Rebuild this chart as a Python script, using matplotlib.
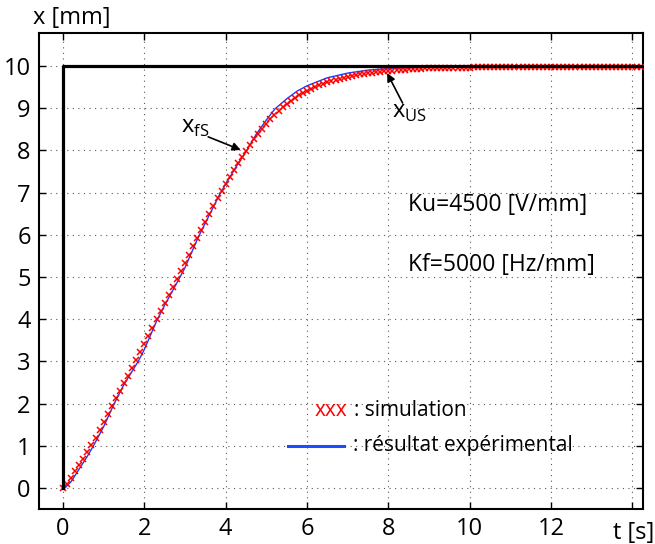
"""
Step response: simulation vs experimental result.
"""
import numpy as np
import matplotlib
matplotlib.use("Agg")
import matplotlib.pyplot as plt
from matplotlib.lines import Line2D

plt.rcParams["font.family"] = ["Open Sans", "DejaVu Sans"]

# set point (step)
step_t = [0.0, 0.0, 14.3]
step_x = [0.0, 10.0, 10.0]

# simulation, sampled every 0.1 s
sim_dt = 0.1
sim_x = [
    0.00, 0.10, 0.24, 0.39, 0.54, 0.69, 0.85, 1.01, 1.19, 1.37,
    1.56, 1.75, 1.94, 2.12, 2.30, 2.48, 2.66, 2.84, 3.02, 3.21,
    3.40, 3.60, 3.80, 4.00, 4.19, 4.38, 4.57, 4.76, 4.95, 5.13,
    5.33, 5.53, 5.73, 5.93, 6.12, 6.31, 6.50, 6.69, 6.87, 7.04,
    7.21, 7.37, 7.53, 7.69, 7.84, 7.98, 8.12, 8.26, 8.39, 8.51,
    8.63, 8.74, 8.84, 8.93, 9.02, 9.10, 9.17, 9.24, 9.30, 9.36,
    9.41, 9.46, 9.50, 9.54, 9.58, 9.61, 9.64, 9.67, 9.70, 9.72,
    9.74, 9.76, 9.78, 9.80, 9.81, 9.83, 9.84, 9.85, 9.86, 9.87,
    9.88, 9.89, 9.90, 9.91, 9.91, 9.92, 9.92, 9.93, 9.93, 9.94,
    9.94, 9.94, 9.95, 9.95, 9.95, 9.95, 9.96, 9.96, 9.96, 9.96,
    9.96, 9.97, 9.97, 9.97, 9.97, 9.97, 9.97, 9.97, 9.97, 9.97,
    9.97, 9.97, 9.97, 9.97, 9.97, 9.97, 9.97, 9.97, 9.97, 9.97,
    9.97, 9.97, 9.97, 9.98, 9.98, 9.98, 9.98, 9.98, 9.98, 9.98,
    9.98, 9.98, 9.98, 9.98, 9.98, 9.98, 9.98, 9.98, 9.98, 9.98,
    9.98, 9.98, 9.98,
]

# experimental result
exp_t = [0.0, 0.05, 0.2, 0.4, 0.6, 0.75, 1.0, 1.25, 1.5, 1.85, 2.0, 2.3,
         2.5, 2.88, 3.0, 3.33, 3.5, 3.86, 4.0, 4.25, 4.52, 4.75, 5.0, 5.21,
         5.5, 5.75, 6.0, 6.5, 7.0, 7.5, 8.0, 8.5, 9.0, 10.0, 11.0, 12.0,
         13.0, 14.2]
exp_x = [0.0, 0.0, 0.15, 0.45, 0.75, 1.0, 1.45, 1.98, 2.45, 3.0, 3.28, 3.95,
         4.33, 5.0, 5.22, 5.95, 6.28, 6.97, 7.2, 7.6, 8.0, 8.38, 8.72, 8.98,
         9.22, 9.4, 9.53, 9.72, 9.83, 9.9, 9.94, 9.96, 9.97, 9.98, 9.99, 10.0,
         10.0, 10.0]

x_ticks = [0, 2, 4, 6, 8, 10, 12, 14]
x_tick_labels = ["0", "2", "4", "6", "8", "10", "12", ""]
y_ticks = list(range(0, 11))

sim_t = np.round(np.arange(len(sim_x)) * sim_dt, 1)

fig = plt.figure(figsize=(6.55, 5.44), dpi=100)
ax = fig.add_axes([0.0595, 0.0643, 0.9222, 0.875])

ax.plot(exp_t, exp_x, color="#1a3cff", lw=1.0, zorder=3)
ax.plot(sim_t, sim_x, linestyle="none", marker="x", color="red",
        markersize=5, markeredgewidth=1.1, zorder=4)
ax.plot(step_t, step_x, color="black", lw=2.3, zorder=5)

ax.set_xlim(-0.59, 14.26)
ax.set_ylim(-0.5, 10.78)
ax.set_xticks(x_ticks)
ax.set_xticklabels(x_tick_labels)
ax.set_yticks(y_ticks)
ax.tick_params(direction="in", length=5, width=1, labelsize=17,
               top=True, right=True, pad=6)
for sp in ax.spines.values():
    sp.set_linewidth(1.5)
ax.grid(True, linestyle=(0, (1, 4)), color="0.35", lw=0.8)

# axis unit labels
ax.text(0.985, -0.051, "t [s]", transform=ax.transAxes,
        ha="center", va="center", fontsize=17)
ax.text(0.055, 1.031, "x [mm]", transform=ax.transAxes,
        ha="center", va="center", fontsize=17)

# parameters
ax.text(8.48, 6.7, "Ku=4500 [V/mm]", fontsize=16.5, va="center")
ax.text(8.48, 5.28, "Kf=5000 [Hz/mm]", fontsize=16.5, va="center")

# annotations
ax.annotate("", xy=(4.37, 8.01), xytext=(3.57, 8.32),
            arrowprops=dict(arrowstyle="-|>", color="black", lw=1.2,
                            mutation_scale=12, shrinkA=0, shrinkB=0))
ax.text(2.9, 8.55, r"x$_\mathregular{fS}$", fontsize=17, va="center")
ax.annotate("", xy=(7.97, 9.83), xytext=(8.35, 9.12),
            arrowprops=dict(arrowstyle="-|>", color="black", lw=1.2,
                            mutation_scale=12, shrinkA=0, shrinkB=0))
ax.text(8.08, 8.9, r"x$_\mathregular{US}$", fontsize=17, va="center")

# hand-made legend
ax.text(0.4565, 0.208, "xxx", transform=ax.transAxes, color="red",
        fontsize=15, va="center")
ax.text(0.5215, 0.208, ": simulation", transform=ax.transAxes,
        fontsize=15, va="center")
ax.add_line(Line2D([0.4123, 0.5050], [0.133, 0.133], transform=ax.transAxes,
                   color="#1a4dff", lw=2.2))
ax.text(0.5200, 0.133, ": résultat expérimental", transform=ax.transAxes,
        fontsize=15, va="center")

fig.savefig("out.png", dpi=100)
